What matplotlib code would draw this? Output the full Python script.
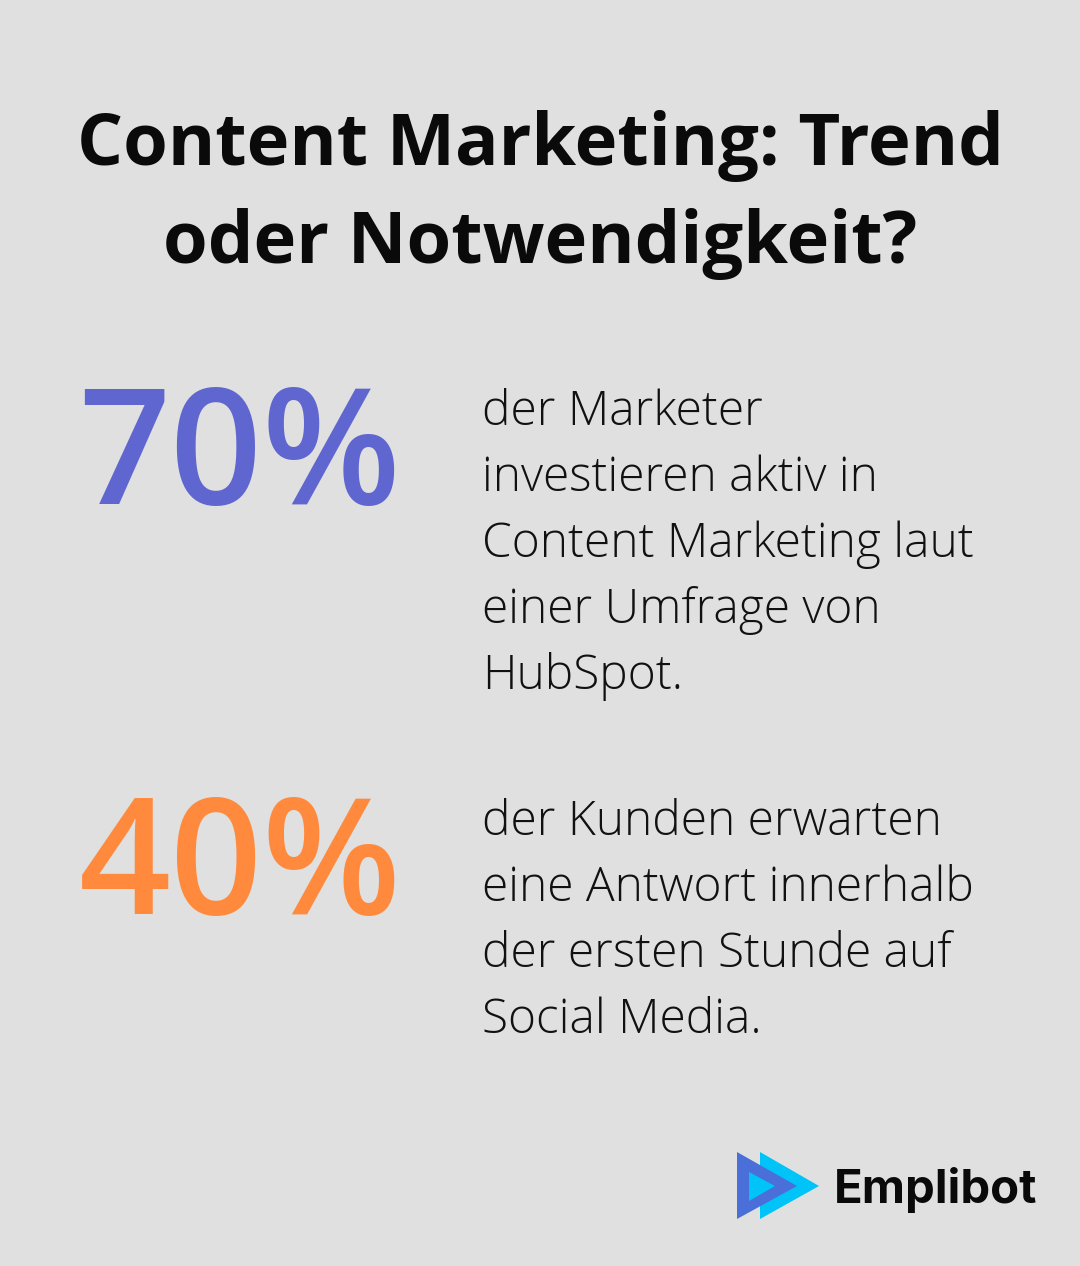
import matplotlib.pyplot as plt
from matplotlib.patches import Polygon

# Content
title_lines = ["Content Marketing: Trend", "oder Notwendigkeit?"]
stat_values = ["70%", "40%"]
stat_colors = ["#6066D0", "#FF8A3D"]
stat_texts = [
    ["der Marketer", "investieren aktiv in", "Content Marketing laut",
     "einer Umfrage von", "HubSpot."],
    ["der Kunden erwarten", "eine Antwort innerhalb", "der ersten Stunde auf",
     "Social Media."],
]
brand = "Emplibot"

bg = "#DFE0DF"
W, H = 1080, 1266

fig = plt.figure(figsize=(W / 100, H / 100), dpi=100)
fig.patch.set_facecolor(bg)
ax = fig.add_axes([0, 0, 1, 1])
ax.set_xlim(0, W)
ax.set_ylim(H, 0)
ax.axis("off")

# Title
for i, line in enumerate(title_lines):
    ax.text(540, 165 + i * 98, line, ha="center", va="baseline",
            fontsize=52, fontweight="bold", family="Open Sans", color="#0A0A0A")

# Stats
stat_base = [504, 914]
text_top = [425, 835]
for k in range(2):
    ax.text(240, stat_base[k], stat_values[k], ha="center", va="baseline",
            fontsize=116, family="Open Sans", fontweight="semibold",
            color=stat_colors[k])
    for j, line in enumerate(stat_texts[k]):
        ax.text(482, text_top[k] + j * 66, line, ha="left", va="baseline",
                fontsize=34.5, family="Open Sans", fontweight="light",
                color="#111111")

# Logo
ax.add_patch(Polygon([(760, 1152), (760, 1219), (819, 1186)], closed=True,
                     color="#00C3F7", lw=0))
ax.add_patch(Polygon([(737, 1152), (737, 1219), (797, 1186)], closed=True,
                     color="#4A6FD8", lw=0))
ax.add_patch(Polygon([(749, 1172), (749, 1201), (775, 1186)], closed=True,
                     color="#00C3F7", lw=0))
ax.text(834, 1203, brand, ha="left", va="baseline", fontsize=34,
        fontweight="bold", family="Inter", color="#0A0A0A")

fig.savefig("out.png", dpi=100, facecolor=bg)
